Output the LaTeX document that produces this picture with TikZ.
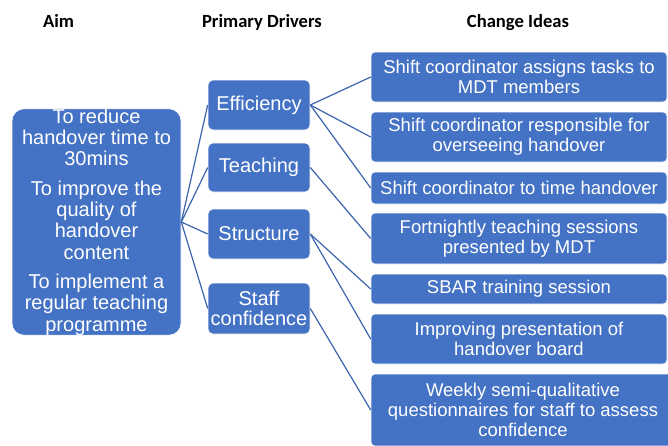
\documentclass[tikz,border=0pt]{standalone}
\usepackage{fontspec}
\setmainfont{Liberation Sans}
\newfontfamily\hdrfont{Carlito}
\definecolor{boxblue}{HTML}{4472C4}
\definecolor{lineblue}{HTML}{3B64AD}
\begin{document}
\begin{tikzpicture}[x=1pt,y=-1pt,
  box/.style={fill=boxblue, draw=white, line width=0.6pt, rounded corners=5pt, text=white, align=center, inner sep=0pt},
  aimbox/.style={box, rounded corners=12pt, font=\fontsize{20}{21.3}\selectfont},
  drvbox/.style={box, font=\fontsize{20}{20}\selectfont, minimum width=102pt},
  ideabox/.style={box, rounded corners=4pt, font=\fontsize{18.5}{20}\selectfont},
  link/.style={draw=lineblue, line width=1.2pt},
  hdr/.style={font=\hdrfont\bfseries\fontsize{18.6}{20}\selectfont, anchor=base, inner sep=0pt}]
\useasboundingbox (0,0) rectangle (668,445);
\clip (0,0) rectangle (668,445);
% headers
\node[hdr] (h1) at (58.5,27) {Aim};
\node[hdr] (h2) at (262,27) {Primary Drivers};
\node[hdr] (h3) at (518,27) {Change Ideas};
% aim
\node[aimbox, minimum width=169pt, minimum height=226pt] (aim) at (96.5,222)
  {To reduce\\handover time to\\30mins\\[8pt]To improve the\\quality of\\handover\\content\\[8pt]To implement a\\regular teaching\\programme};
% drivers
\node[drvbox, minimum height=50pt] (eff) at (259,105) {Efficiency};
\node[drvbox, minimum height=49pt] (tea) at (259,167.5) {Teaching};
\node[drvbox, minimum height=50pt] (str) at (259,234) {Structure};
\node[drvbox, minimum height=51pt] (sta) at (259,308.5) {Staff\\confidence};
% change ideas
\node[ideabox, minimum width=296pt, minimum height=50pt] (c1) at (519,77) {Shift coordinator assigns tasks to\\MDT members};
\node[ideabox, minimum width=296pt, minimum height=50pt] (c2) at (519,137) {Shift coordinator responsible for\\overseeing handover};
\node[ideabox, minimum width=296pt, minimum height=32pt] (c3) at (519,188) {Shift coordinator to time handover};
\node[ideabox, minimum width=296pt, minimum height=51pt] (c4) at (519,238.5) {Fortnightly teaching sessions\\presented by MDT};
\node[ideabox, minimum width=296pt, minimum height=30pt] (c5) at (519,289) {SBAR training session};
\node[ideabox, minimum width=296pt, minimum height=50pt] (c6) at (519,339) {Improving presentation of\\handover board};
\node[ideabox, minimum width=304pt, minimum height=72pt] (c7) at (523,410) {Weekly semi-qualitative\\questionnaires for staff to assess\\confidence};
% links
\draw[link] (aim.east) -- (eff.west);
\draw[link] (aim.east) -- (tea.west);
\draw[link] (aim.east) -- (str.west);
\draw[link] (aim.east) -- (sta.west);
\draw[link] (eff.east) -- (c1.west);
\draw[link] (eff.east) -- (c2.west);
\draw[link] (eff.east) -- (c3.west);
\draw[link] (tea.east) -- (c4.west);
\draw[link] (str.east) -- (c5.west);
\draw[link] (str.east) -- (c6.west);
\draw[link] (sta.east) -- (c7.west);
\end{tikzpicture}
\end{document}
